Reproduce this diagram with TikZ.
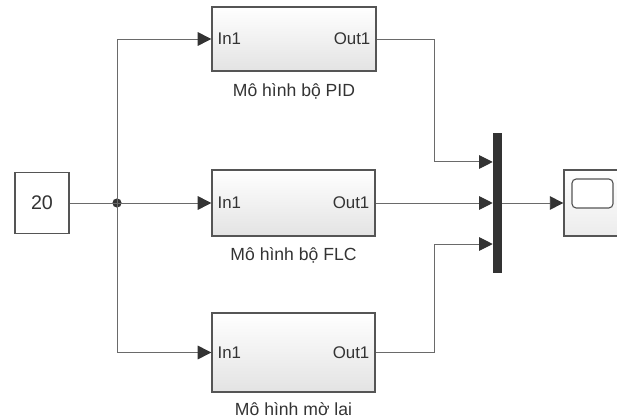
\documentclass[tikz,border=0pt]{standalone}
\usepackage{fontspec}
\setmainfont{Liberation Sans}
\usepackage{xcolor}
\usetikzlibrary{arrows.meta,positioning,calc}
\definecolor{wire}{HTML}{6A6A6A}
\definecolor{edge}{HTML}{555555}
\definecolor{ink}{HTML}{333333}

\begin{document}
\begin{tikzpicture}[
  x=0.025cm, y=-0.025cm,
  font=\fontsize{12}{14}\selectfont,
  subsys/.style={draw=edge, line width=0.9pt, top color=white,
    bottom color=gray!22, inner sep=0pt},
  const/.style={draw=edge, line width=0.8pt, fill=white, inner sep=0pt,
    minimum width=1.35cm, minimum height=1.525cm, text=ink,
    font=\fontsize{14}{16}\selectfont},
  port/.style={inner sep=0pt, text=ink},
  caption/.style={inner sep=0pt, text=ink, font=\fontsize{12.5}{14}\selectfont},
  muxbar/.style={fill=ink, draw=none, minimum width=0.225cm,
    minimum height=3.5cm, inner sep=0pt},
  sig/.style={-{Triangle[length=3.4mm,width=3.4mm,color=ink]}, wire, line width=0.7pt},
  line/.style={wire, line width=0.7pt}
]
\useasboundingbox (0,0) rectangle (617,419);
\clip (0,0) rectangle (617,419);
% source
\node[const] (src) at (42,203) {20};
\coordinate (split) at (117,203);
\fill[ink] (split) circle[radius=0.115cm];
% model blocks
\node[subsys, minimum width=4.1cm, minimum height=1.6cm] (pid) at (294,39) {};
\node[subsys, minimum width=4.075cm, minimum height=1.65cm] (flc) at (293.5,203) {};
\node[subsys, minimum width=4.075cm, minimum height=1.975cm] (lai) at (293.5,352.5) {};
\foreach \blk in {pid,flc,lai}{
  \node[port, anchor=west] (\blk in) at ([xshift=0.15cm]\blk.west) {In1};
  \node[port, anchor=east] (\blk out) at ([xshift=-0.15cm]\blk.east) {Out1};
}
\node[caption, below=0.3cm of pid] (pidcap) {Mô hình bộ PID};
\node[caption, below=0.27cm of flc] (flccap) {Mô hình bộ FLC};
\node[caption, below=0.25cm of lai] (laicap) {Mô hình mờ lai};
% mux and scope
\node[muxbar] (mux) at (497.5,203) {};
\coordinate (mux1) at ([yshift=1.025cm]mux.west);
\coordinate (mux2) at (mux.west);
\coordinate (mux3) at ([yshift=-1.025cm]mux.west);
\node[draw=edge, line width=0.9pt, top color=white, bottom color=gray!15,
  minimum width=1.9cm, minimum height=1.65cm, inner sep=0pt] (scope) at (602,203) {};
\node[draw=edge, line width=0.8pt, rounded corners=3pt, fill=white,
  minimum width=1.025cm, minimum height=0.725cm, inner sep=0pt] (screen) at (592.5,193.5) {};
% wiring
\draw[line] (src.east) -- (split);
\draw[sig] (split) -- (flc.west);
\draw[sig] (split) |- (pid.west);
\draw[sig] (split) |- (lai.west);
\draw[sig] (pid.east) -- ++(58,0) |- (mux1);
\draw[sig] (flc.east) -- (mux2);
\draw[sig] (lai.east) -- ++(59,0) |- (mux3);
\draw[sig] (mux.east) -- (scope.west);
\end{tikzpicture}
\end{document}
